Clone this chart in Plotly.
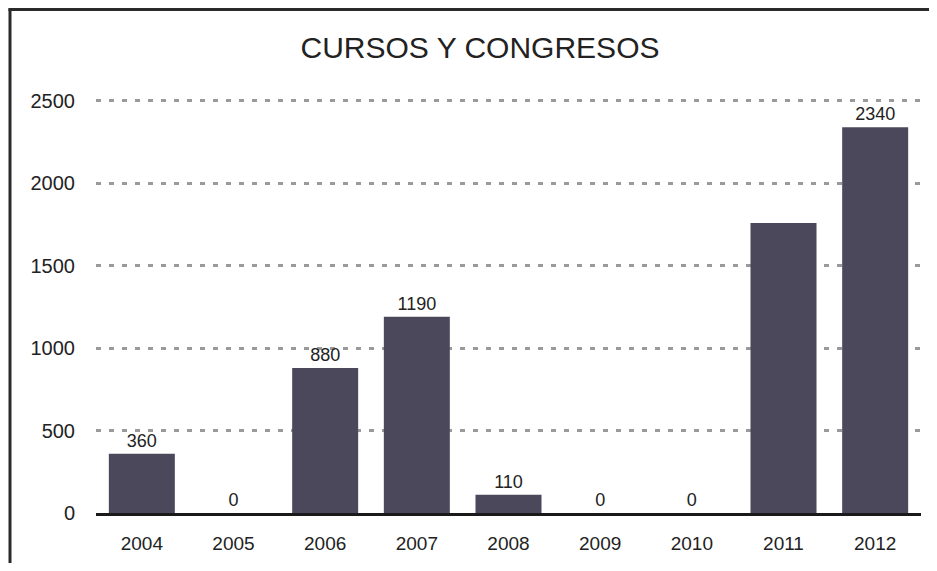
import plotly.graph_objects as go

# datos
anios = ["2004", "2005", "2006", "2007", "2008", "2009", "2010", "2011", "2012"]
valores = [360, 0, 880, 1190, 110, 0, 0, 1760, 2340]
etiquetas = ["360", "0", "880", "1190", "110", "0", "0", "", "2340"]
ticks_y = [0, 500, 1000, 1500, 2000, 2500]
y_max = 2530

fuente = "Liberation Sans, Arial, sans-serif"
texto = "#222222"

# la pagina deja 8px de margen en el body, el grafico se ajusta a eso
# (sin pasarse de la ventana para que no salga barra de scroll)
ancho, alto = 921, 555
izq, abajo, der = 88, 50, 8
alto_plot = round(y_max * 412 / 2500)
arriba = alto - abajo - alto_plot
ancho_plot = ancho - izq - der

# marco: solo se ven los lados izquierdo y superior
x_marco = (2 - izq) / ancho_plot
y_marco = (alto - abajo - 1.5) / alto_plot

fig = go.Figure()
fig.add_trace(
    go.Bar(
        x=anios,
        y=valores,
        text=etiquetas,
        textposition="outside",
        textfont=dict(size=18, color=texto, family=fuente),
        cliponaxis=False,
        marker=dict(color="#4b485c", line=dict(width=0)),
        hoverinfo="x+y",
    )
)

fig.update_layout(
    width=ancho,
    height=alto,
    margin=dict(l=izq, r=der, t=arriba, b=abajo),
    paper_bgcolor="white",
    plot_bgcolor="white",
    bargap=0.28,
    showlegend=False,
    font=dict(family=fuente, color=texto, size=19),
    title=dict(
        text="CURSOS Y CONGRESOS",
        x=(472) / ancho,
        xanchor="center",
        y=1 - 39 / alto,
        yanchor="middle",
        yref="container",
        font=dict(size=30, color=texto, family=fuente),
    ),
    shapes=[
        dict(
            type="line", xref="paper", yref="paper",
            x0=x_marco - 0.002, x1=1.2, y0=y_marco, y1=y_marco,
            line=dict(color="#2a2a2a", width=3),
        ),
        dict(
            type="line", xref="paper", yref="paper",
            x0=x_marco, x1=x_marco, y0=-0.3, y1=y_marco,
            line=dict(color="#2a2a2a", width=3),
        ),
    ],
)

fig.update_xaxes(
    showline=True,
    linecolor="#1a1a1a",
    linewidth=3,
    showgrid=False,
    ticks="",
    ticklabelstandoff=11,
    tickfont=dict(size=19, color=texto),
)

fig.update_yaxes(
    range=[0, y_max],
    tickvals=ticks_y,
    showgrid=True,
    gridcolor="#9a9a9a",
    gridwidth=2.5,
    griddash="5px,8px",
    zeroline=False,
    showline=False,
    ticks="",
    ticklabelstandoff=20,
    tickfont=dict(size=20, color=texto),
)

fig.write_html("out.html")
